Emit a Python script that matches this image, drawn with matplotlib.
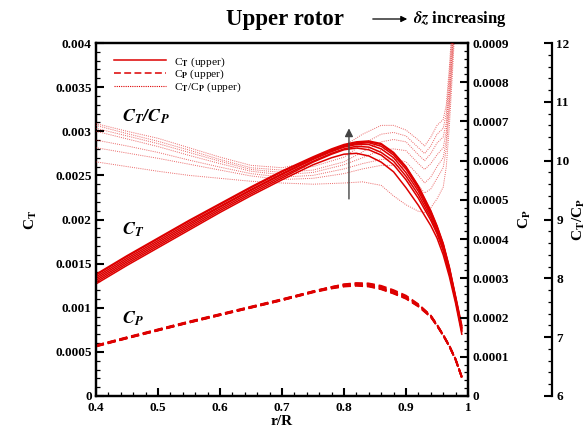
import matplotlib
matplotlib.use("Agg")
import matplotlib.pyplot as plt
from matplotlib.ticker import MultipleLocator, FuncFormatter
from matplotlib.lines import Line2D

plt.rcParams['font.family'] = ['Liberation Serif', 'DejaVu Serif']
plt.rcParams['font.weight'] = 'bold'
plt.rcParams['mathtext.fontset'] = 'stix'

# ---------------- data ----------------
r_ct = [0.40, 0.45, 0.50, 0.55, 0.60, 0.65, 0.70, 0.75, 0.78, 0.80, 0.82,
        0.84, 0.86, 0.88, 0.90, 0.92, 0.94, 0.95, 0.96, 0.97, 0.98, 0.99]

# C_T (units of 1e-4)
ct_0 = [12.7, 14.8, 16.8, 18.8, 20.8, 22.7, 24.5, 26.2, 27.0, 27.4, 27.5, 27.2, 26.5, 25.4, 23.6, 21.6, 19.3, 17.9, 16.0, 13.5, 10.5, 7.0]
ct_1 = [12.9, 15.0, 17.0, 19.0, 21.0, 22.9, 24.7, 26.5, 27.4, 27.9, 28.1, 27.9, 27.3, 26.2, 24.5, 22.4, 19.9, 18.4, 16.5, 13.9, 10.8, 7.3]
ct_2 = [13.1, 15.2, 17.2, 19.2, 21.2, 23.1, 24.9, 26.6, 27.5, 28.0, 28.3, 28.2, 27.6, 26.6, 24.9, 22.8, 20.2, 18.6, 16.6, 14.0, 10.9, 7.4]
ct_3 = [13.3, 15.4, 17.4, 19.4, 21.4, 23.3, 25.1, 26.8, 27.7, 28.2, 28.5, 28.5, 28.0, 27.0, 25.3, 23.2, 20.5, 18.9, 16.9, 14.2, 11.0, 7.6]
ct_4 = [13.5, 15.6, 17.6, 19.6, 21.5, 23.4, 25.2, 26.9, 27.8, 28.3, 28.6, 28.7, 28.3, 27.3, 25.7, 23.5, 20.7, 19.1, 17.1, 14.4, 11.1, 7.7]
ct_5 = [13.7, 15.8, 17.8, 19.8, 21.7, 23.6, 25.4, 27.0, 27.9, 28.4, 28.7, 28.8, 28.5, 27.5, 25.9, 23.7, 20.9, 19.2, 17.2, 14.5, 11.2, 7.8]
ct_6 = [13.8, 15.9, 17.9, 19.9, 21.8, 23.7, 25.5, 27.1, 28.0, 28.5, 28.8, 28.9, 28.6, 27.6, 26.0, 23.8, 21.0, 19.3, 17.3, 14.6, 11.3, 8.0]

# C_P (units of 1e-4)
cp_0 = [1.26, 1.47, 1.67, 1.87, 2.06, 2.25, 2.44, 2.64, 2.74, 2.79, 2.81, 2.79, 2.72, 2.61, 2.48, 2.28, 2.01, 1.79, 1.54, 1.26, 0.92, 0.47]
cp_1 = [1.27, 1.47, 1.67, 1.87, 2.06, 2.25, 2.44, 2.65, 2.75, 2.80, 2.82, 2.80, 2.73, 2.62, 2.49, 2.29, 2.02, 1.79, 1.54, 1.26, 0.92, 0.47]
cp_2 = [1.27, 1.48, 1.68, 1.88, 2.07, 2.26, 2.45, 2.65, 2.76, 2.81, 2.83, 2.81, 2.74, 2.63, 2.50, 2.30, 2.03, 1.80, 1.55, 1.27, 0.93, 0.48]
cp_3 = [1.28, 1.48, 1.68, 1.88, 2.07, 2.26, 2.45, 2.66, 2.77, 2.82, 2.84, 2.82, 2.75, 2.64, 2.51, 2.31, 2.03, 1.80, 1.55, 1.27, 0.93, 0.48]
cp_4 = [1.28, 1.49, 1.69, 1.89, 2.08, 2.27, 2.46, 2.66, 2.77, 2.83, 2.85, 2.84, 2.77, 2.66, 2.52, 2.32, 2.04, 1.81, 1.55, 1.27, 0.93, 0.48]
cp_5 = [1.29, 1.49, 1.69, 1.89, 2.08, 2.27, 2.46, 2.67, 2.78, 2.84, 2.87, 2.86, 2.79, 2.68, 2.54, 2.33, 2.05, 1.81, 1.56, 1.28, 0.94, 0.49]
cp_6 = [1.29, 1.50, 1.70, 1.90, 2.09, 2.28, 2.47, 2.67, 2.78, 2.85, 2.88, 2.87, 2.81, 2.70, 2.56, 2.34, 2.05, 1.82, 1.56, 1.28, 0.94, 0.49]

r_ratio = [0.40, 0.45, 0.50, 0.55, 0.60, 0.65, 0.70, 0.75, 0.80, 0.83, 0.86,
           0.88, 0.90, 0.92, 0.93, 0.94, 0.95, 0.96, 0.965, 0.97, 0.975, 0.98]

ratio_6 = [10.63, 10.50, 10.38, 10.22, 10.06, 9.92, 9.88, 9.98, 10.25, 10.45, 10.60, 10.60, 10.52, 10.35, 10.25, 10.40, 10.60, 10.70, 10.95, 11.60, 12.40, 13.20]
ratio_5 = [10.60, 10.46, 10.33, 10.18, 10.02, 9.88, 9.84, 9.90, 10.06, 10.28, 10.45, 10.48, 10.42, 10.22, 10.12, 10.25, 10.45, 10.55, 10.80, 11.45, 12.25, 13.10]
ratio_4 = [10.55, 10.42, 10.29, 10.14, 9.99, 9.85, 9.80, 9.84, 9.98, 10.15, 10.32, 10.36, 10.32, 10.10, 10.00, 10.12, 10.30, 10.40, 10.65, 11.30, 12.10, 13.00]
ratio_3 = [10.50, 10.37, 10.24, 10.09, 9.95, 9.82, 9.76, 9.80, 9.93, 10.05, 10.18, 10.20, 10.17, 9.95, 9.85, 9.95, 10.10, 10.22, 10.50, 11.15, 11.95, 12.90]
ratio_2 = [10.35, 10.25, 10.14, 10.01, 9.89, 9.78, 9.72, 9.75, 9.86, 9.95, 10.02, 10.03, 9.98, 9.75, 9.62, 9.72, 9.90, 10.05, 10.35, 11.00, 11.85, 12.80]
ratio_1 = [10.22, 10.13, 10.04, 9.94, 9.84, 9.74, 9.68, 9.70, 9.78, 9.86, 9.92, 9.92, 9.88, 9.58, 9.45, 9.52, 9.70, 9.88, 10.20, 10.85, 11.70, 12.70]
ratio_0 = [9.98, 9.90, 9.82, 9.75, 9.70, 9.65, 9.62, 9.60, 9.62, 9.64, 9.58, 9.40, 9.25, 9.14, 9.12, 9.20, 9.35, 9.55, 9.90, 10.60, 11.50, 12.50]

ct_curves = [ct_0, ct_1, ct_2, ct_3, ct_4, ct_5, ct_6]
cp_curves = [cp_0, cp_1, cp_2, cp_3, cp_4, cp_5, cp_6]
ratio_curves = [ratio_0, ratio_1, ratio_2, ratio_3, ratio_4, ratio_5, ratio_6]

legend_labels = ['C$_{\\mathrm{T}}$ (upper)', 'C$_{\\mathrm{P}}$ (upper)',
                 'C$_{\\mathrm{T}}$/C$_{\\mathrm{P}}$ (upper)']

# ---------------- figure ----------------
RED = '#dd0000'
fig = plt.figure(figsize=(5.87, 4.29), dpi=100)
ax = fig.add_axes([96/587, 1-396/429, 372/587, 353/429])
ax_cp = ax.twinx()
ax_r = ax.twinx()
ax_r.spines['right'].set_position(('axes', (552-96)/372))
for s in ['top', 'left', 'bottom']:
    ax_r.spines[s].set_visible(False)

for c in ct_curves:
    ax.plot(r_ct, [v*1e-4 for v in c], color=RED, lw=1.1, ls='-')
for c in cp_curves:
    ax_cp.plot(r_ct, [v*1e-4 for v in c], color=RED, lw=1.3, ls=(0, (4.5, 2.2)))
for c in ratio_curves:
    ax_r.plot(r_ratio, c, color=RED, lw=0.7, ls=(0, (1, 1.2)), alpha=0.6)

ax.set_xlim(0.4, 1.0)
ax.set_ylim(0, 0.004)
ax_cp.set_ylim(0, 0.0009)
ax_r.set_ylim(6, 12)

fmt = FuncFormatter(lambda v, p: '%g' % round(v, 8))
ax.xaxis.set_major_locator(MultipleLocator(0.1))
ax.xaxis.set_minor_locator(MultipleLocator(0.02))
ax.yaxis.set_major_locator(MultipleLocator(0.0005))
ax.yaxis.set_minor_locator(MultipleLocator(0.0001))
ax_cp.yaxis.set_major_locator(MultipleLocator(0.0001))
ax_cp.yaxis.set_minor_locator(MultipleLocator(0.00002))
ax_r.yaxis.set_major_locator(MultipleLocator(1))
ax_r.yaxis.set_minor_locator(MultipleLocator(0.2))
for a in (ax, ax_cp, ax_r):
    a.xaxis.set_major_formatter(fmt)
    a.yaxis.set_major_formatter(fmt)
    a.tick_params(which='major', direction='in', length=6, width=1.5, labelsize=9.5, pad=3)
    a.tick_params(which='minor', direction='in', length=3, width=0.9)
    for s in a.spines.values():
        s.set_linewidth(1.6)
ax.tick_params(axis='x', which='both', top=False, pad=4)
ax.tick_params(axis='y', which='both', right=False)

ax.set_xlabel('r/R', fontsize=11, fontweight='bold', labelpad=1)
ax.set_ylabel('C$_{\\mathbf{T}}$', fontsize=11, fontweight='bold', labelpad=12)
ax_cp.set_ylabel('C$_{\\mathbf{P}}$', fontsize=11, fontweight='bold', labelpad=6)
ax_r.set_ylabel('C$_{\\mathbf{T}}$/C$_{\\mathbf{P}}$', fontsize=11, fontweight='bold', labelpad=1)

handles = [Line2D([], [], color=RED, lw=1.1, ls='-'),
           Line2D([], [], color=RED, lw=1.1, ls=(0, (4.5, 2.2))),
           Line2D([], [], color=RED, lw=0.8, ls=(0, (1, 1)))]
leg = ax_r.legend(handles, legend_labels, loc='upper left', bbox_to_anchor=(0.02, 0.995),
                  frameon=False, handlelength=4.6, handletextpad=0.7, labelspacing=-0.05,
                  prop={'size': 8.2, 'weight': 'normal'})

# annotations
ax.text(0.48, 0.00316, '$\\mathbfit{C_T/C_P}$', fontsize=13, ha='center', va='center')
ax.text(0.46, 0.00188, '$\\mathbfit{C_T}$', fontsize=13, ha='center', va='center')
ax.text(0.46, 0.00088, '$\\mathbfit{C_P}$', fontsize=13, ha='center', va='center')
ax_r.annotate('', xy=(0.808, 10.55), xytext=(0.808, 9.35),
              arrowprops=dict(arrowstyle='-|>', color='#444444', lw=1.0,
                              mutation_scale=12, shrinkA=0, shrinkB=0))

# title and header arrow
fig.text(285/587, 1-20/429, 'Upper rotor', fontsize=16.5, fontweight='bold',
         ha='center', va='center')
fig.patches.append(matplotlib.patches.FancyArrowPatch(
    (370/587, 1-19/429), (410/587, 1-19/429), transform=fig.transFigure,
    arrowstyle='-|>', mutation_scale=9, color='black', lw=0.9))
fig.text(413/587, 1-19/429, '$\\mathbfit{\\delta z}$ increasing', fontsize=12,
         fontweight='bold', ha='left', va='center')

fig.savefig('out.png', dpi=100)
